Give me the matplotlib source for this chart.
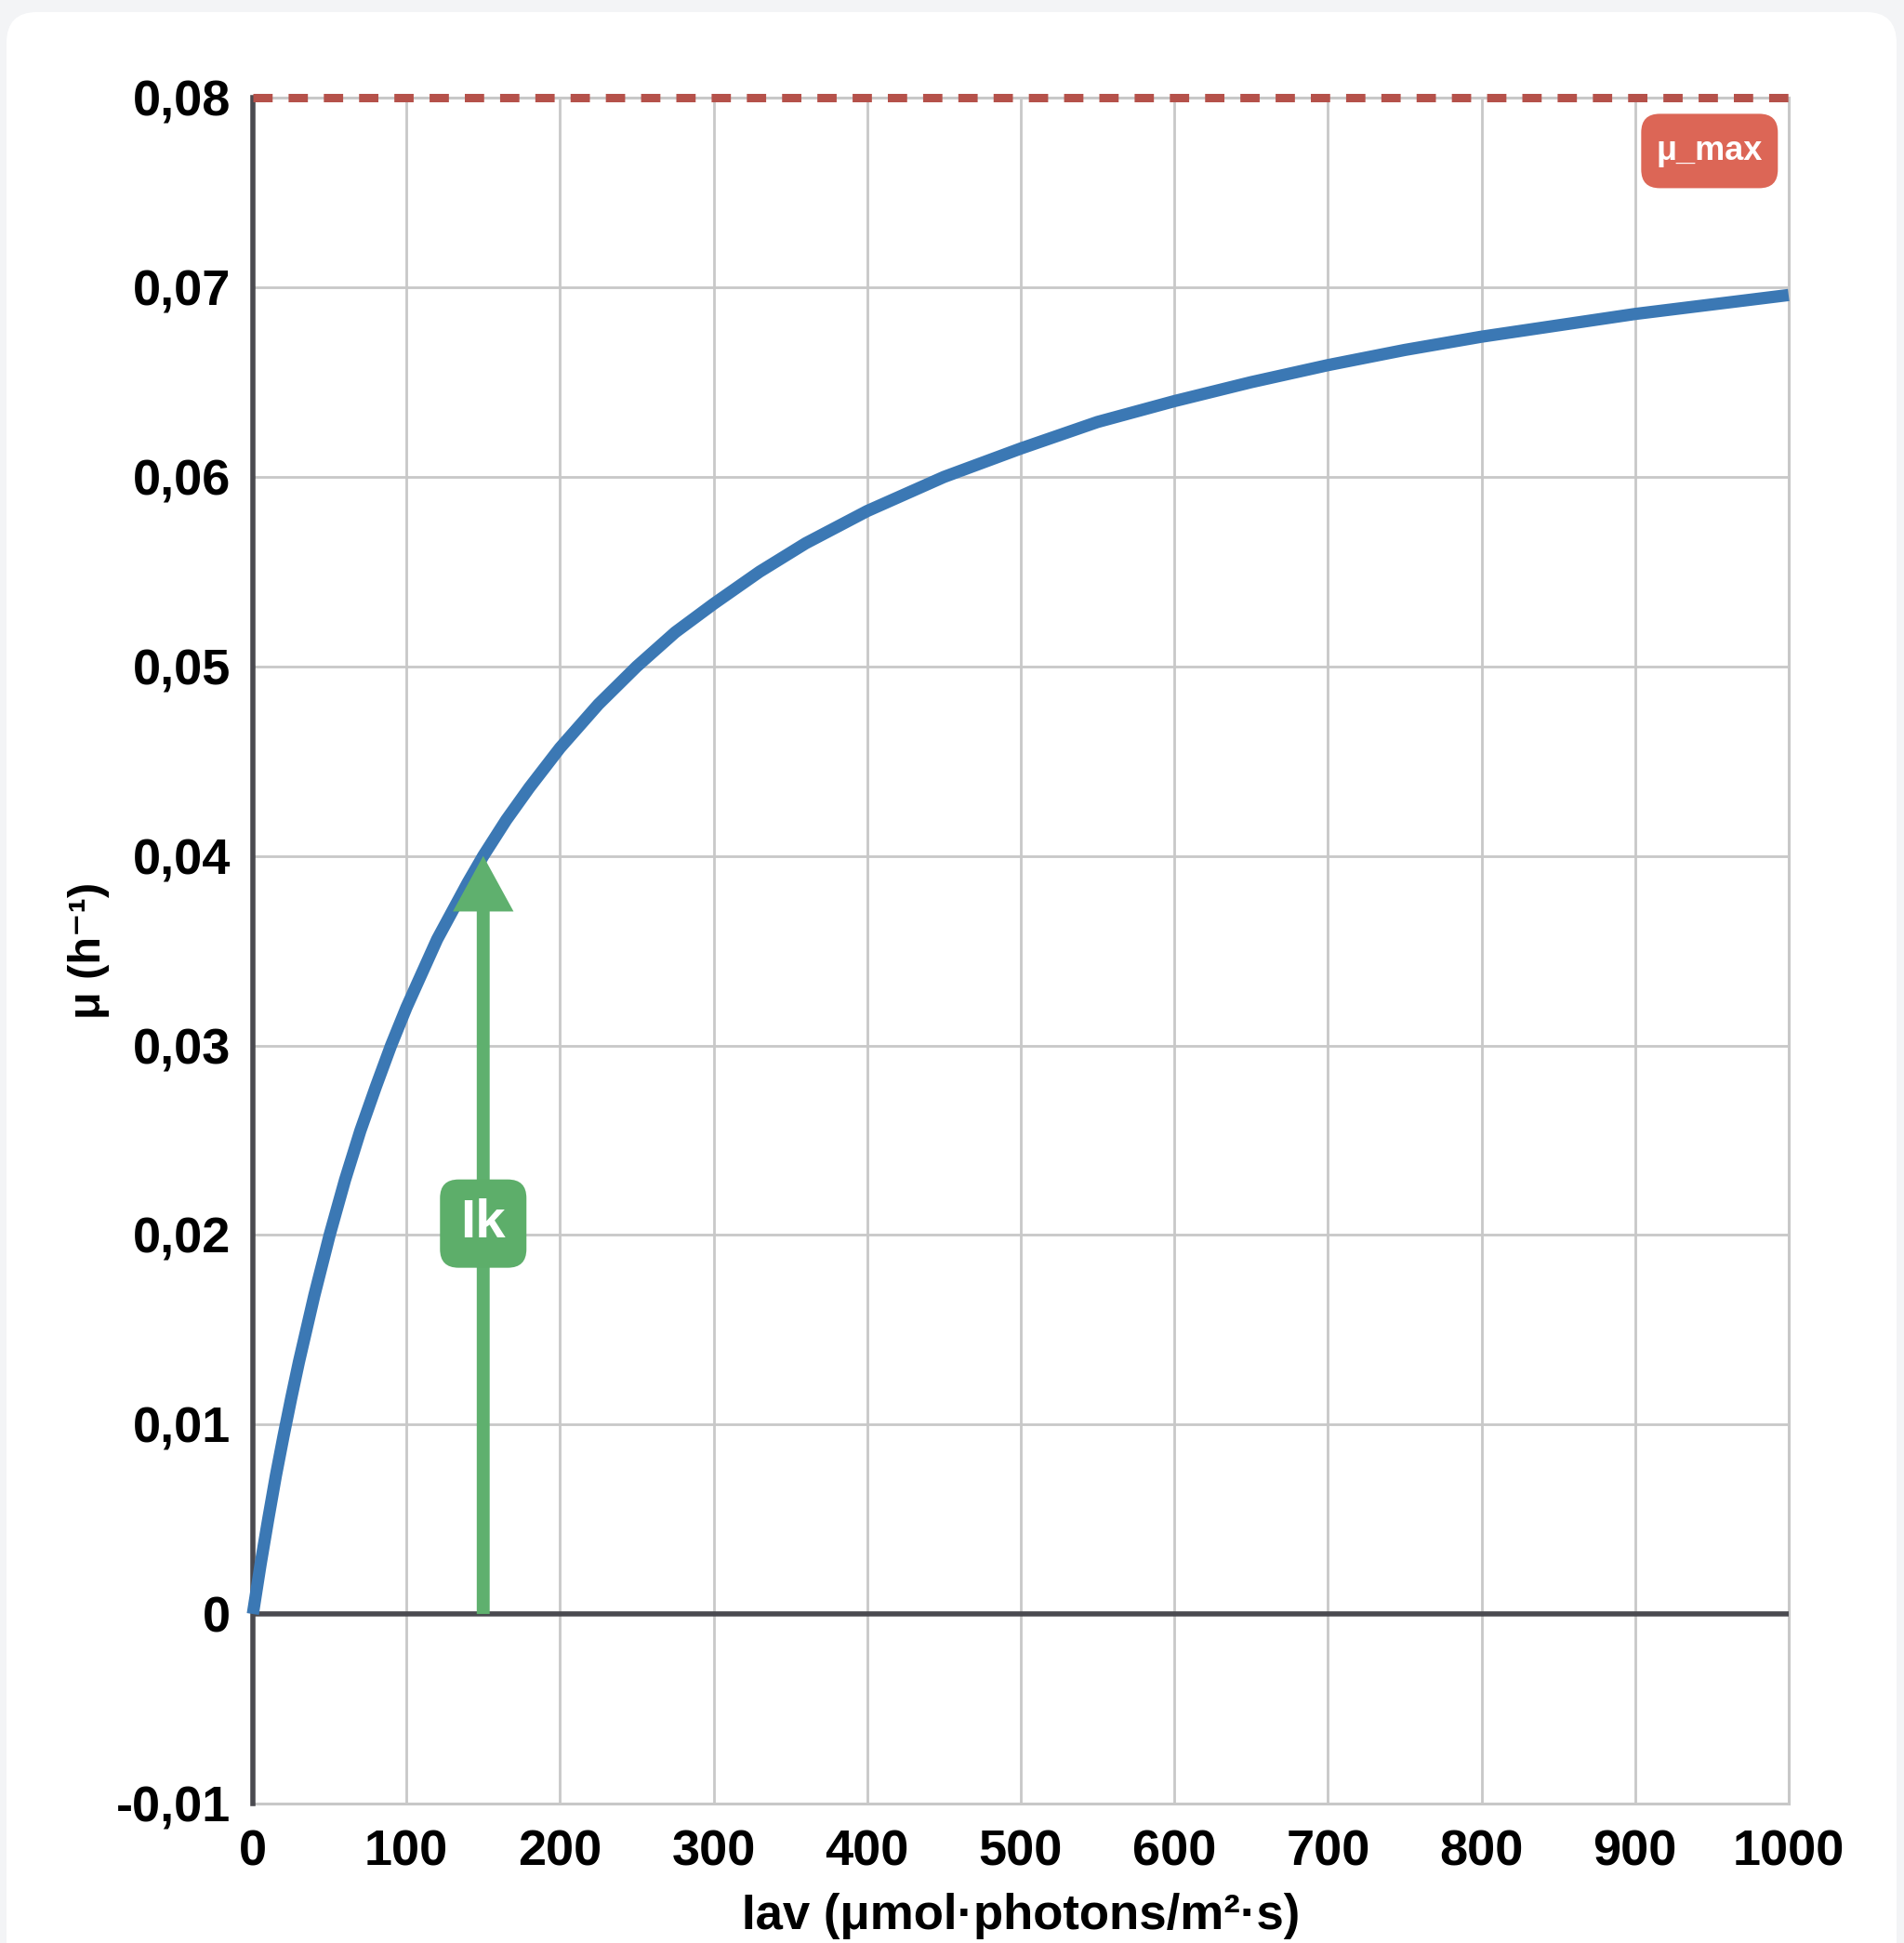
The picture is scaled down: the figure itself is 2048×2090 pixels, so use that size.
import matplotlib

matplotlib.use('Agg')
import matplotlib.pyplot as plt  # noqa: E402
import matplotlib.transforms as mtransforms  # noqa: E402
from matplotlib.patches import FancyBboxPatch  # noqa: E402

FONT = ['Liberation Sans', 'DejaVu Sans']

# light intensity (x) and growth rate
irradiance = [0, 5, 10, 15, 20, 25, 30, 40, 50, 60, 70, 80, 90, 100, 110,
              120, 130, 140, 150, 165, 180, 200, 225, 250, 275, 300, 330,
              360, 400, 450, 500, 550, 600, 650, 700, 750, 800, 850, 900,
              950, 1000]
growth_rate = [0.0, 0.0026, 0.0050, 0.0073, 0.0094, 0.0114, 0.0133, 0.0168,
               0.0200, 0.0229, 0.0255, 0.0278, 0.0300, 0.0320, 0.0338,
               0.0356, 0.0371, 0.0386, 0.0400, 0.0419, 0.0436, 0.0457,
               0.0480, 0.0500, 0.0518, 0.0533, 0.0550, 0.0565, 0.0582,
               0.0600, 0.0615, 0.0629, 0.0640, 0.0650, 0.0659, 0.0667,
               0.0674, 0.0680, 0.0686, 0.0691, 0.0696]

mu_max = 0.08
ik_value = 150
ik_rate = 0.040

x_ticks = [0, 100, 200, 300, 400, 500, 600, 700, 800, 900, 1000]
y_ticks = [-0.01, 0, 0.01, 0.02, 0.03, 0.04, 0.05, 0.06, 0.07, 0.08]
y_tick_labels = ['-0,01', '0', '0,01', '0,02', '0,03', '0,04', '0,05',
                 '0,06', '0,07', '0,08']

figure = plt.figure(figsize=(20.48, 20.90), dpi=100, facecolor='#f3f4f6')

# white rounded card behind the chart
card = FancyBboxPatch((0.0034, -0.05), 0.9927, 1.0438,
                      boxstyle='round,pad=0,rounding_size=0.016',
                      transform=figure.transFigure, facecolor='white',
                      edgecolor='none', zorder=-10)
figure.patches.append(card)

axis = figure.add_axes([0.1328, 0.0718, 0.8066, 0.8778])
axis.set_zorder(2)
axis.set_facecolor('white')
axis.set_xlim(0, 1000)
axis.set_ylim(-0.01, 0.08)

axis.set_xticks(x_ticks)
axis.set_xticklabels([str(t) for t in x_ticks])
axis.set_yticks(y_ticks)
axis.set_yticklabels(y_tick_labels)
axis.tick_params(axis='both', length=0, labelsize=39)
axis.tick_params(axis='x', pad=20)
axis.tick_params(axis='y', pad=17)
for label in axis.get_xticklabels() + axis.get_yticklabels():
    label.set_fontfamily(FONT)
    label.set_fontweight('bold')

axis.grid(True, color='#c8c8c8', linewidth=2)
axis.set_axisbelow(True)

for side in ('right', 'bottom', 'top'):
    axis.spines[side].set_color('#c8c8c8')
    axis.spines[side].set_linewidth(2.2)
axis.spines['left'].set_color('#4a4a50')
axis.spines['left'].set_linewidth(4)
axis.spines['left'].set_zorder(3)

axis.axhline(0, color='#4a4a50', linewidth=4, zorder=3)
axis.axhline(mu_max, color='#b5514a', linewidth=6.5, dashes=(2.3, 1.9),
             clip_on=False, zorder=5)

axis.plot(irradiance, growth_rate, color='#3b78b4', linewidth=9.5,
          solid_capstyle='butt', solid_joinstyle='round', zorder=4,
          clip_on=False)

# Ik arrow
axis.annotate('', xy=(ik_value, ik_rate), xytext=(ik_value, 0),
              arrowprops=dict(arrowstyle='simple,tail_width=1.0,head_width=4.7,head_length=4.3',
                              mutation_scale=10, color='#5fb06e', lw=0,
                              shrinkA=0, shrinkB=0),
              zorder=5)


def badge(x, y, text, width_px, height_px, color, size):
    trans = figure.dpi_scale_trans + mtransforms.ScaledTranslation(x, y, axis.transData)
    w = width_px / 100
    h = height_px / 100
    box = FancyBboxPatch((-w / 2, -h / 2), w, h,
                         boxstyle='round,pad=0,rounding_size=0.2',
                         transform=trans, facecolor=color, edgecolor='none',
                         zorder=6, clip_on=False)
    axis.add_patch(box)
    axis.text(x, y, text, ha='center', va='center', color='white',
              fontsize=size, fontweight='bold', family=FONT, zorder=7)


badge(ik_value, 0.0206, 'Ik', 93, 95, '#5dae6a', 42)
badge(948.5, 0.0772, 'μ_max', 147, 80, '#dc6656', 26)

axis.set_ylabel('μ (h⁻¹)', fontsize=35, fontweight='bold', family=FONT)
axis.yaxis.label.set_va('center')
axis.yaxis.set_label_coords(-0.107, 0.5)
axis.set_xlabel('Iav (μmol·photons/m²·s)', fontsize=38, fontweight='bold',
                family=FONT)
axis.xaxis.set_label_coords(0.5, -0.066)
axis.xaxis.label.set_va('center')

figure.savefig('out.png', dpi=100, facecolor=figure.get_facecolor())
plt.close(figure)
